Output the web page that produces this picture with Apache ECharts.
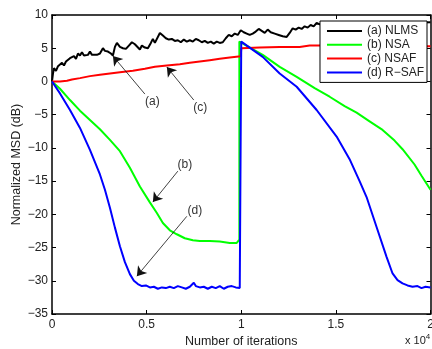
<!DOCTYPE html>
<html>
<head>
<meta charset="utf-8">
<script src="https://cdn.jsdelivr.net/npm/echarts@6/dist/echarts.min.js"></script>
<style>
  html, body { margin: 0; padding: 0; background: #fff; }
  #chart { width: 432px; height: 349px; }
</style>
</head>
<body>
<div id="chart"></div>
<script>
// x in iterations, y in dB
const nlms = [
  [0, 0], [53, 1.2], [106, 2.0], [211, 1.6], [317, 2.3], [422, 2.0], [528, 2.8], [633, 2.4],
  [739, 3.0], [844, 2.7], [950, 3.5], [1055, 3.2], [1161, 3.8], [1266, 3.4], [1372, 4.2],
  [1478, 3.9], [1583, 4.4], [1689, 3.9], [1794, 4.2], [1900, 4.0], [2005, 4.5], [2111, 4.0],
  [2216, 4.3], [2375, 4.0], [2533, 4.2], [2691, 5.0], [2797, 4.6], [2955, 4.5], [3113, 4.2],
  [3219, 3.9], [3325, 5.2], [3430, 5.8], [3589, 5.2], [3747, 5.0], [3905, 4.9], [4063, 5.4],
  [4222, 5.9], [4380, 5.6], [4485, 5.5], [4644, 4.8], [4750, 5.4], [4908, 5.1], [5066, 5.0],
  [5224, 5.8], [5330, 6.4], [5436, 5.8], [5541, 5.5], [5700, 7.3], [5858, 6.9], [6016, 6.5],
  [6174, 6.3], [6332, 6.4], [6491, 6.1], [6649, 6.2], [6807, 5.9], [6966, 6.3], [7124, 6.0],
  [7283, 6.2], [7441, 6.0], [7599, 6.4], [7757, 6.2], [7916, 5.9], [8074, 6.1], [8232, 5.8],
  [8390, 6.0], [8549, 5.7], [8707, 6.0], [8865, 5.8], [9024, 5.9], [9182, 6.5], [9340, 7.0],
  [9499, 6.8], [9657, 7.2], [9815, 7.0], [9974, 7.7], [10132, 7.4], [10290, 7.2], [10448, 7.0],
  [10607, 7.2], [10765, 7.5], [10923, 7.9], [11082, 7.6], [11240, 7.3], [11398, 7.8],
  [11557, 7.4], [11768, 7.2], [11979, 7.0], [12190, 6.8], [12401, 6.7], [12559, 7.3],
  [12718, 8.0], [12876, 7.8], [13034, 8.1], [13192, 7.9], [13351, 8.3], [13509, 8.1],
  [13667, 8.5], [13826, 8.3], [13984, 8.8], [14142, 8.6], [14406, 8.8], [14934, 8.7],
  [15462, 8.9], [16253, 8.8], [17309, 8.9], [18364, 8.8], [20000, 8.9]
];

const nsa = [
  [0, 0], [422, -1.1], [950, -2.8], [1478, -4.4], [2005, -5.8], [2533, -7.2], [3061, -8.8],
  [3589, -10.5], [4116, -13.0], [4644, -15.8], [5171, -18.2], [5541, -19.8], [5858, -21.3],
  [6227, -22.4], [6596, -23.0], [7018, -23.6], [7441, -23.9], [7810, -24.0], [8338, -24.0],
  [8865, -24.1], [9393, -24.3], [9762, -24.3], [9900, -23.8], [9900, 6.0], [10000, 6.0],
  [11134, 4.0], [12032, 2.2], [12929, 0.7], [13879, -1.0], [14670, -2.3], [15462, -3.7],
  [16095, -4.7], [16781, -6.0], [17467, -7.3], [18100, -8.9], [18522, -10.2], [19156, -12.5],
  [19525, -14.2], [20000, -16.3]
];

const nsaf = [
  [0, 0], [422, 0.0], [792, 0.1], [1055, 0.3], [1478, 0.5], [2005, 0.8], [2533, 1.0],
  [3061, 1.2], [3589, 1.4], [4274, 1.6], [4908, 1.9], [5436, 2.2], [6069, 2.4], [6755, 2.6],
  [7282, 2.8], [7810, 3.0], [8338, 3.2], [8865, 3.4], [9393, 3.6], [9974, 3.8], [10000, 5.0],
  [10977, 5.1], [12032, 5.2], [13087, 5.2], [13615, 5.4], [15000, 5.4], [17000, 5.3],
  [20000, 5.3]
];

const rsaf = [
  [0, 0], [422, -1.8], [950, -4.3], [1478, -7.0], [2005, -10.3], [2533, -14.0], [2797, -16.3],
  [3061, -19.0], [3325, -22.0], [3589, -24.8], [3853, -27.2], [4116, -29.0], [4327, -30.0],
  [4538, -30.5], [4750, -30.8], [4961, -30.7], [5171, -31.0], [5383, -30.9], [5594, -31.2],
  [5805, -31.0], [6016, -31.1], [6227, -30.9], [6438, -31.1], [6649, -30.8], [6860, -31.0],
  [7071, -31.2], [7282, -30.9], [7493, -30.3], [7599, -30.8], [7810, -31.0], [8021, -30.9],
  [8232, -31.2], [8443, -30.9], [8654, -31.1], [8865, -30.8], [9076, -31.2], [9288, -30.9],
  [9499, -30.8], [9710, -31.0], [9921, -31.1], [10000, -31.0], [10000, 6.0], [11134, 3.7],
  [12032, 1.2], [12929, -0.8], [13984, -4.3], [15039, -8.3], [15725, -11.7], [16253, -15.0],
  [16622, -17.4], [17150, -21.9], [17678, -26.4], [17995, -28.9], [18259, -29.9],
  [18522, -30.4], [18786, -30.7], [19050, -30.9], [19314, -30.8], [19525, -31.1],
  [19736, -30.9], [20000, -31.0]
];

const seriesNames = ['(a) NLMS', '(b) NSA', '(c) NSAF', '(d) R\u2212SAF'];
const seriesColors = ['#000000', '#00ff00', '#ff0000', '#0000ff'];

// annotation labels: [text, textX, textY, fromX, fromY, toX, toY]
const notes = [
  ['(a)', 5303, -3.0, 4908, -1.9, 3219, 3.83],
  ['(c)', 7836, -4.0, 7493, -2.8, 6069, 2.17],
  ['(b)', 7018, -12.6, 6649, -13.5, 5330, -18.16],
  ['(d)', 7546, -19.4, 7124, -20.3, 4485, -29.3]
];

const xTicks = [0, 0.5, 1, 1.5, 2];
const yMin = -35, yMax = 10;

const font = 'Liberation Sans, Arial, sans-serif';
const minus = v => String(v).replace('-', '\u2212');

const chart = echarts.init(document.getElementById('chart'));

const lineSeries = [nlms, nsa, nsaf, rsaf].map((data, i) => ({
  name: seriesNames[i],
  type: 'line',
  data: data,
  symbol: 'none',
  lineStyle: { color: seriesColors[i], width: 2 },
  itemStyle: { color: seriesColors[i] },
  z: i === 3 ? 4 : 3
}));

// arrows + texts hang off the first series
lineSeries[0].markLine = {
  silent: true,
  symbol: ['none', 'arrow'],
  symbolSize: 9,
  label: { show: false },
  lineStyle: { color: '#111', width: 0.8, type: 'solid' },
  data: notes.map(n => [{ coord: [n[3], n[4]] }, { coord: [n[5], n[6]] }])
};
lineSeries[0].markPoint = {
  silent: true,
  symbol: 'circle',
  symbolSize: 0,
  itemStyle: { color: 'rgba(0,0,0,0)' },
  label: { show: true, position: 'inside', color: '#333', fontSize: 12, fontFamily: font,
           formatter: p => p.name },
  data: notes.map(n => ({ name: n[0], coord: [n[1], n[2]] }))
};

const axisCommonX = {
  type: 'value',
  min: 0,
  max: 20000,
  interval: 5000,
  axisLine: { show: true, onZero: false, lineStyle: { color: '#000', width: 1.5 } },
  axisTick: { show: true, inside: true, length: 4, lineStyle: { color: '#000', width: 1 } },
  splitLine: { show: false }
};
const axisCommonY = {
  type: 'value',
  min: yMin,
  max: yMax,
  interval: 5,
  axisLine: { show: true, onZero: false, lineStyle: { color: '#000', width: 1.5 } },
  axisTick: { show: true, inside: true, length: 4, lineStyle: { color: '#000', width: 1 } },
  splitLine: { show: false }
};

chart.setOption({
  animation: false,
  backgroundColor: '#fff',
  grid: { left: 52, right: 1.5, top: 15, bottom: 35, containLabel: false, outerBoundsMode: 'none' },
  xAxis: [
    Object.assign({}, axisCommonX, {
      position: 'bottom',
      name: 'Number of iterations',
      nameLocation: 'middle',
      nameGap: 21,
      nameMoveOverlap: false,
      nameTextStyle: { color: '#222', fontSize: 12.5, fontFamily: font },
      axisLabel: { color: '#222', fontSize: 12, fontFamily: font, margin: 5,
                   formatter: v => String(xTicks[Math.round(v / 5000)]) }
    }),
    Object.assign({}, axisCommonX, { position: 'top', axisLabel: { show: false } })
  ],
  yAxis: [
    Object.assign({}, axisCommonY, {
      position: 'left',
      name: 'Normalized MSD (dB)',
      nameLocation: 'middle',
      nameGap: 29,
      nameMoveOverlap: false,
      nameTextStyle: { color: '#222', fontSize: 12.5, fontFamily: font },
      axisLabel: { color: '#222', fontSize: 12, fontFamily: font, margin: 4, formatter: minus }
    }),
    Object.assign({}, axisCommonY, { position: 'right', axisLabel: { show: false } })
  ],
  legend: {
    data: seriesNames,
    orient: 'vertical',
    right: 5,
    top: 21,
    padding: [4, 3, 4, 7],
    icon: 'rect',
    itemWidth: 35,
    itemHeight: 2,
    itemGap: 1.8,
    backgroundColor: '#fff',
    borderColor: '#000',
    borderWidth: 1,
    textStyle: { color: '#222', fontSize: 12, fontFamily: font },
    z: 10
  },
  graphic: [{
    type: 'text',
    left: 405,
    top: 333,
    style: {
      text: 'x 10{s|4}',
      fill: '#222',
      font: '11px ' + font,
      rich: { s: { fontSize: 8, verticalAlign: 'top', padding: [0, 0, 8, 0] } }
    }
  }],
  series: lineSeries
});
</script>
</body>
</html>
